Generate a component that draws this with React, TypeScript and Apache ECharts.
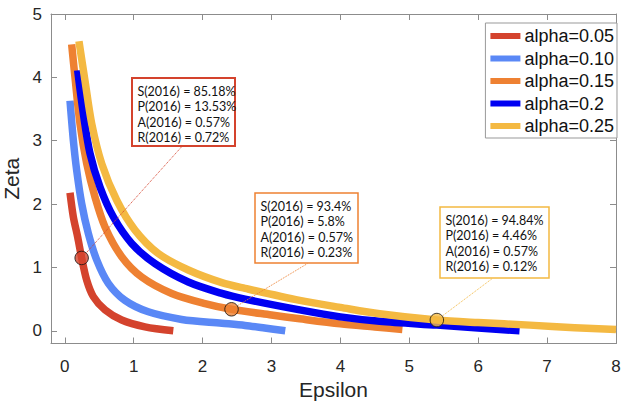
import React, { useEffect, useRef } from "react";
import * as echarts from "echarts";

const seriesNames = ["alpha=0.05", "alpha=0.10", "alpha=0.15", "alpha=0.2", "alpha=0.25"];
const seriesColors = ["#D4432D", "#5A88F6", "#EE8132", "#0000F2", "#F4B942"];

const curve005: [number, number][] = [
  [0.076, 2.18], [0.124, 1.8], [0.187, 1.48], [0.245, 1.15], [0.318, 0.8], [0.414, 0.54],
  [0.584, 0.33], [0.826, 0.17], [1.164, 0.063], [1.575, 0.0],
];
const curve010: [number, number][] = [
  [0.076, 3.63], [0.124, 3.01], [0.173, 2.53], [0.245, 2.01], [0.341, 1.54], [0.463, 1.12],
  [0.632, 0.75], [0.874, 0.48], [1.212, 0.3], [1.697, 0.18], [2.28, 0.12], [2.616, 0.085],
  [2.9, 0.045], [3.2, 0.0],
];
const curve015: [number, number][] = [
  [0.1, 4.52], [0.148, 4.0], [0.221, 3.27], [0.318, 2.64], [0.439, 2.11], [0.584, 1.64],
  [0.826, 1.17], [1.116, 0.85], [1.552, 0.59], [2.035, 0.43], [2.42, 0.34], [3.0, 0.25],
  [3.41, 0.19], [4.0, 0.11], [4.5, 0.06], [4.9, 0.02],
];
const curve020: [number, number][] = [
  [0.187, 4.11], [0.269, 3.43], [0.366, 2.8], [0.511, 2.27], [0.704, 1.8], [0.971, 1.38],
  [1.31, 1.06], [1.793, 0.77], [2.28, 0.59], [2.616, 0.5], [3.41, 0.33], [4.0, 0.22],
  [4.57, 0.15], [5.4, 0.09], [6.0, 0.045], [6.6, 0.0],
];
const curve025: [number, number][] = [
  [0.206, 4.57], [0.293, 3.95], [0.391, 3.27], [0.536, 2.64], [0.754, 2.06], [1.019, 1.59],
  [1.357, 1.22], [1.793, 0.96], [2.28, 0.76], [2.616, 0.67], [3.41, 0.48], [4.0, 0.37],
  [4.57, 0.27], [5.4, 0.17], [6.0, 0.13], [6.75, 0.09], [7.4, 0.05], [8.0, 0.02],
];
const curves = [curve005, curve010, curve015, curve020, curve025];

// highlighted points and where their dotted leaders end
const markedPoints: [number, number][] = [[0.245, 1.15], [2.42, 0.34], [5.4, 0.17]];
const markedColors = ["#D4432D", "#EE8132", "#F4B942"];
const leaderEnds: [number, number][] = [[1.7, 2.91], [3.52, 1.06], [6.21, 0.83]];

const noteTexts = [
  ["S(2016) = 85.18%", "P(2016) = 13.53%", "A(2016) = 0.57%", "R(2016) = 0.72%"],
  ["S(2016) = 93.4%", "P(2016) = 5.8%", "A(2016) = 0.57%", "R(2016) = 0.23%"],
  ["S(2016) = 94.84%", "P(2016) = 4.46%", "A(2016) = 0.57%", "R(2016) = 0.12%"],
];
const noteBorders = ["#D4432D", "#EE8132", "#F4B942"];

const xTicks = [0, 1, 2, 3, 4, 5, 6, 7, 8];
const yTicks = [0, 1, 2, 3, 4, 5];

const FONT = "'Liberation Sans', Arial, Helvetica, sans-serif";
const NOTE_FONT = "Lato, 'Open Sans', sans-serif";

export default function App() {
  const ref = useRef<HTMLDivElement>(null);
  useEffect(() => {
    if (!ref.current) return;
    const chart = echarts.init(ref.current, undefined, { renderer: "svg" });
    const axisColor = "#8c8c8c";
    const baseX = {
      type: "value" as const,
      min: -0.2,
      max: 8,
      axisLine: { show: true, onZero: false, lineStyle: { color: axisColor, width: 1 } },
      splitLine: { show: false },
    };
    const baseY = {
      type: "value" as const,
      min: -0.2,
      max: 5,
      axisLine: { show: true, onZero: false, lineStyle: { color: axisColor, width: 1 } },
      splitLine: { show: false },
    };
    const curveSeries = curves.map((d, i) => ({
      name: seriesNames[i],
      type: "line",
      data: d,
      smooth: 0.3,
      showSymbol: false,
      symbol: "none",
      lineStyle: { color: seriesColors[i], width: 7.5, cap: "butt", join: "round" },
      itemStyle: { color: seriesColors[i] },
      z: 2 + i * 0.1,
    }));
    const leaderSeries = markedPoints.map((p, i) => ({
      type: "line",
      data: [p, leaderEnds[i]],
      symbol: "none",
      lineStyle: { color: markedColors[i], width: 1, type: "dotted" },
      z: 3,
    }));
    const dotSeries = markedPoints.map((p, i) => ({
      type: "scatter",
      data: [p],
      symbolSize: 13.5,
      itemStyle: { color: markedColors[i], borderColor: "#111", borderWidth: 1 },
      z: 5,
    }));

    const boxes = [
      { x: 132, y: 78, w: 103, h: 68, lw: 2 },
      { x: 255, y: 193, w: 103, h: 70, lw: 1.5 },
      { x: 440, y: 207, w: 109, h: 71, lw: 1.5 },
    ];
    const graphic = boxes.map((b, i) => ({
      type: "group",
      z: 100,
      children: [
        {
          type: "rect",
          shape: { x: b.x, y: b.y, width: b.w, height: b.h },
          style: { fill: "#fff", stroke: noteBorders[i], lineWidth: b.lw },
          z: 100,
        },
        {
          type: "text",
          x: b.x + 5.5,
          y: b.y + 6,
          style: {
            text: noteTexts[i].join("\n"),
            font: `12.5px ${NOTE_FONT}`,
            lineHeight: 15.3,
            fill: "#111",
            verticalAlign: "top",
          },
          z: 101,
        },
      ],
    }));

    chart.setOption({
      animation: false,
      grid: { left: 51, right: 6, top: 14, bottom: 59.5, containLabel: false, outerBoundsMode: "none" },
      xAxis: [
        {
          ...baseX,
          position: "bottom",
          name: "Epsilon",
          nameLocation: "middle",
          nameGap: 30,
          nameTextStyle: { fontSize: 21, color: "#262626", fontFamily: FONT },
          axisTick: { show: true, inside: true, length: 6, customValues: xTicks, lineStyle: { color: axisColor } },
          axisLabel: { customValues: xTicks, fontSize: 17, color: "#262626", fontFamily: FONT, margin: 14 },
        },
        {
          ...baseX,
          position: "top",
          axisTick: { show: true, inside: true, length: 6, customValues: xTicks, lineStyle: { color: axisColor } },
          axisLabel: { show: false },
        },
      ],
      yAxis: [
        {
          ...baseY,
          position: "left",
          name: "Zeta",
          nameLocation: "middle",
          nameGap: 18,
          nameRotate: 90,
          nameTextStyle: { fontSize: 21, color: "#262626", fontFamily: FONT },
          axisTick: { show: true, inside: true, length: 6, customValues: yTicks, lineStyle: { color: axisColor } },
          axisLabel: { customValues: yTicks, fontSize: 17, color: "#262626", fontFamily: FONT, margin: 9 },
        },
        {
          ...baseY,
          position: "right",
          axisTick: { show: true, inside: true, length: 6, customValues: yTicks, lineStyle: { color: axisColor } },
          axisLabel: { show: false },
        },
      ],
      legend: {
        data: seriesNames,
        orient: "vertical",
        right: 5,
        top: 23,
        padding: [4, 3, 3, 5],
        itemGap: 4.5,
        itemWidth: 30,
        itemHeight: 6,
        icon: "rect",
        backgroundColor: "#fff",
        borderColor: "#999",
        borderWidth: 1,
        borderRadius: 0,
        textStyle: { fontSize: 18, color: "#111", fontFamily: FONT, lineHeight: 18, padding: [0, 0, 0, -1] },
        z: 50,
      },
      graphic,
      series: [...curveSeries, ...leaderSeries, ...dotSeries],
    });
    return () => chart.dispose();
  }, []);
  return <div ref={ref} style={{ width: 622, height: 403, position: "absolute", left: 0, top: 0, background: "#fff" }} />;
}
